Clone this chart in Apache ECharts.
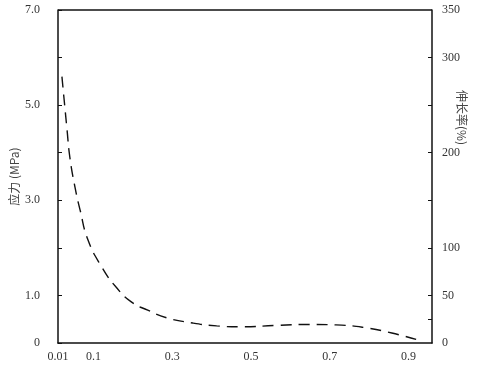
<!DOCTYPE html>
<html>
<head>
<meta charset="utf-8">
<script src="https://cdn.jsdelivr.net/npm/echarts@6/dist/echarts.min.js"></script>
<style>
html,body{margin:0;padding:0;background:#fff}
#chart{width:491px;height:373px}
</style>
</head>
<body>
<div id="chart"></div>
<script>
// 曲线数据
var xVals = [0.02, 0.033, 0.04, 0.053, 0.066, 0.086, 0.121, 0.159, 0.197, 0.238, 0.286, 0.352, 0.413, 0.478, 0.564, 0.648, 0.716, 0.792, 0.858, 0.926];
var stress = [5.6, 4.48, 3.91, 3.28, 2.8, 2.17, 1.6, 1.16, 0.86, 0.69, 0.53, 0.42, 0.36, 0.34, 0.37, 0.39, 0.38, 0.32, 0.21, 0.06];

var xTicks = [0.01, 0.1, 0.3, 0.5, 0.7, 0.9];
var leftTicks = [0, 1, 3, 5, 7];
var rightTicks = [0, 50, 100, 200, 300, 350];

var serif = '"Liberation Serif", "DejaVu Serif", serif';
var lineCol = '#111';

var chart = echarts.init(document.getElementById('chart'));

var option = {
  animation: false,
  grid: {left: 58, right: 59, top: 10, bottom: 30, outerBoundsMode: 'none'},
  xAxis: {
    type: 'value',
    min: 0.01,
    max: 0.96,
    splitLine: {show: false},
    axisLine: {lineStyle: {color: lineCol, width: 1.5}},
    axisTick: {show: false},
    axisLabel: {
      customValues: xTicks,
      color: '#333',
      fontFamily: serif,
      fontSize: 12,
      margin: 8,
      formatter: function (v) { return String(v); }
    }
  },
  yAxis: [
    {
      type: 'value',
      min: 0,
      max: 7,
      position: 'left',
      name: '应力 (MPa)',
      nameLocation: 'middle',
      nameGap: 38,
      nameMoveOverlap: false,
      nameTextStyle: {color: '#444', fontSize: 12, fontFamily: '"Noto Sans CJK SC", serif'},
      splitLine: {show: false},
      axisLine: {show: true, lineStyle: {color: lineCol, width: 1.5}},
      axisTick: {show: true, inside: true, length: 4, interval: 0, lineStyle: {color: lineCol}},
      axisLabel: {
        customValues: leftTicks,
        color: '#333',
        fontFamily: serif,
        fontSize: 12,
        margin: 18,
        formatter: function (v) { return v === 0 ? '0' : v.toFixed(1); }
      }
    },
    {
      type: 'value',
      min: 0,
      max: 350,
      position: 'right',
      name: '伸长率(%)',
      nameLocation: 'middle',
      nameRotate: -90,
      nameGap: 24,
      nameMoveOverlap: false,
      nameTextStyle: {color: '#444', fontSize: 12, fontFamily: '"Noto Sans CJK SC", serif', padding: [0, 118, 0, 0]},
      splitLine: {show: false},
      axisLine: {show: true, lineStyle: {color: lineCol, width: 1.5}},
      axisTick: {show: true, inside: true, length: 4, customValues: [25, 50, 100, 150, 200, 250, 300], lineStyle: {color: lineCol}},
      axisLabel: {
        customValues: rightTicks,
        color: '#333',
        fontFamily: serif,
        fontSize: 12,
        margin: 10
      }
    }
  ],
  series: [{
    type: 'line',
    yAxisIndex: 0,
    smooth: true,
    showSymbol: false,
    data: xVals.map(function (x, i) { return [x, stress[i]]; }),
    lineStyle: {color: '#111', width: 1.4, type: [11, 7]}
  }],
  graphic: [{
    type: 'line',
    shape: {x1: 58, y1: 10, x2: 432, y2: 10},
    style: {stroke: lineCol, lineWidth: 1.5}
  }]
};

chart.setOption(option);
</script>
</body>
</html>
